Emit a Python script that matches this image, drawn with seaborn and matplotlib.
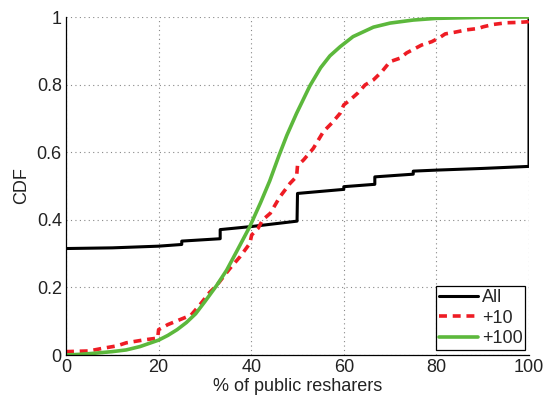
import numpy as np
import pandas as pd
import matplotlib
matplotlib.use("Agg")
import matplotlib.pyplot as plt
import seaborn as sns

# Share of public resharers (%) and cumulative fraction for each group
all_x = [0, 10, 20, 25, 25, 33.3, 33.3, 40, 49.9, 50, 60, 60, 66.7, 66.7,
         75, 75, 80, 90, 100, 100]
all_y = [0.315, 0.317, 0.322, 0.327, 0.337, 0.344, 0.371, 0.380, 0.396, 0.478,
         0.490, 0.498, 0.505, 0.527, 0.535, 0.544, 0.547, 0.552, 0.558, 1.0]

p10_x = [0, 5, 8, 11, 13, 17, 19.8, 20, 22, 24.5, 27, 29, 31, 32.5, 35.4,
         37.6, 39.7, 40.1, 41.5, 42.5, 44.1, 45, 46.2, 48.4, 49.8, 50, 51.3,
         53.4, 55.6, 57.4, 59.2, 60, 61.3, 63.1, 64.6, 66.4, 68.2, 70, 72.1,
         73.6, 75, 76.8, 79, 80.8, 81.9, 84, 86.5, 89, 90.1, 92.3, 95.2, 97.7,
         99.8, 100]
p10_y = [0.010, 0.012, 0.020, 0.027, 0.036, 0.045, 0.050, 0.075, 0.090, 0.104,
         0.118, 0.150, 0.185, 0.205, 0.256, 0.291, 0.330, 0.355, 0.375, 0.400,
         0.419, 0.440, 0.468, 0.508, 0.528, 0.560, 0.577, 0.611, 0.661, 0.686,
         0.715, 0.740, 0.754, 0.776, 0.799, 0.814, 0.838, 0.868, 0.878, 0.894,
         0.904, 0.917, 0.927, 0.940, 0.950, 0.955, 0.962, 0.966, 0.971, 0.978,
         0.983, 0.984, 0.986, 0.995]

p100_x = [0, 3, 6, 10, 13, 16, 20, 22, 24, 26, 28, 30, 32.5, 34.7, 37, 39.7,
          42, 44, 46, 47.7, 49.8, 52.7, 55, 57, 59.2, 62, 66.4, 70, 75, 80,
          90, 100]
p100_y = [0.0, 0.002, 0.005, 0.010, 0.015, 0.025, 0.044, 0.058, 0.075, 0.096,
          0.122, 0.158, 0.205, 0.251, 0.310, 0.380, 0.450, 0.515, 0.590, 0.650,
          0.715, 0.797, 0.850, 0.885, 0.912, 0.942, 0.970, 0.982, 0.991, 0.996,
          0.999, 1.0]

x_ticks = [0, 20, 40, 60, 80, 100]
y_ticks = [0, 0.2, 0.4, 0.6, 0.8, 1]
y_tick_labels = ["0", "0.2", "0.4", "0.6", "0.8", "1"]

sns.set_theme(style="white")
plt.rcParams["font.family"] = ["Liberation Sans", "DejaVu Sans"]
plt.rcParams["xtick.direction"] = "in"
plt.rcParams["ytick.direction"] = "in"

fig = plt.figure(figsize=(5.45, 3.96), dpi=100)
ax = fig.add_axes([66 / 545, 41 / 396, 463 / 545, 338 / 396])

sns.lineplot(x=all_x, y=all_y, ax=ax, estimator=None, sort=False,
             color="black", linewidth=2.2, label="All")
sns.lineplot(x=p10_x, y=p10_y, ax=ax, estimator=None, sort=False,
             color="#ee1c24", linewidth=2.6, label="+10")
sns.lineplot(x=p100_x, y=p100_y, ax=ax, estimator=None, sort=False,
             color="#5cb83c", linewidth=2.6, label="+100")
ax.lines[1].set_dashes([2.2, 1.6])

ax.set_xlim(0, 100)
ax.set_ylim(0, 1)
ax.set_xticks(x_ticks)
ax.set_yticks(y_ticks)
ax.set_yticklabels(y_tick_labels)
ax.tick_params(axis="both", labelsize=13, colors="#222222", length=4,
               width=0.8, pad=3, color="black")
ax.set_xlabel("% of public resharers", fontsize=13, color="#222222", labelpad=1)
ax.set_ylabel("CDF", fontsize=13, color="#222222", labelpad=5)

ax.grid(True, linestyle=(0, (1, 3)), color="#888888", linewidth=0.8)
for side in ["top", "right"]:
    ax.spines[side].set_visible(False)
for side in ["left", "bottom"]:
    ax.spines[side].set_color("black")
    ax.spines[side].set_linewidth(0.9)

leg = ax.legend(loc="lower right", bbox_to_anchor=(0.992, 0.015),
                fontsize=13, handlelength=2.2, handletextpad=0.2,
                labelspacing=0.2, borderpad=0.15, borderaxespad=0.0,
                fancybox=False, framealpha=1, edgecolor="black")
leg.get_frame().set_linewidth(0.9)

fig.savefig("out.png", dpi=100)
